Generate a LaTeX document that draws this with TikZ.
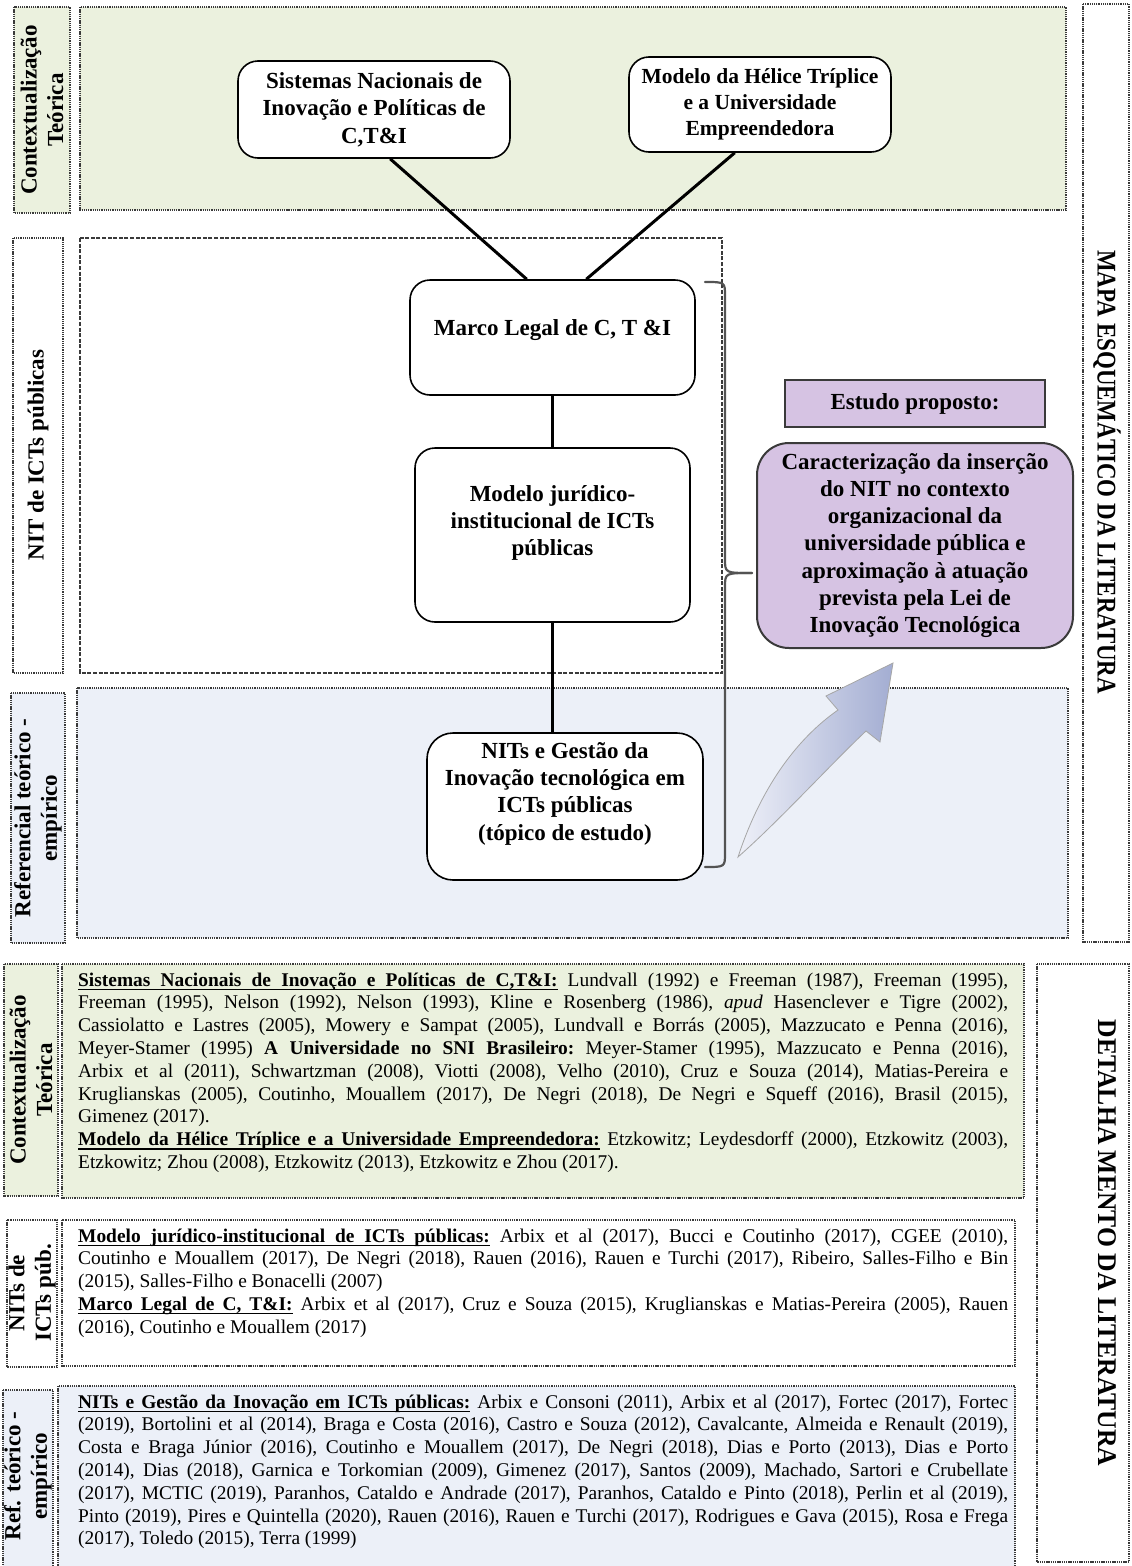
\documentclass[tikz,border=0pt]{standalone}
\usepackage{fontspec}
\setmainfont{Liberation Serif}
\usepackage{graphicx}
\usetikzlibrary{calc}

\definecolor{ctxgreen}{HTML}{EBF1DE}
\definecolor{refblue}{HTML}{ECF0F8}
\definecolor{propurple}{HTML}{D6C3E3}
\definecolor{frame}{HTML}{3A3A3A}
\definecolor{arrowlight}{HTML}{EEF0F8}
\definecolor{arrowdark}{HTML}{A3ADD2}

% fonts
\newcommand\bodyfont{\fontsize{19.4}{22.8}\selectfont\frenchspacing}
\newcommand\nodefont{\fontsize{23}{27.3}\selectfont\bfseries}
\newcommand\smallnodefont{\fontsize{21.5}{26}\selectfont\bfseries}
\newcommand\labfont{\fontsize{23}{26.5}\selectfont\bfseries}
\newcommand\sidefont{\fontsize{27}{30}\selectfont\bfseries}

% one justified line of the reference lists
\newcommand\jline[1]{\hbox to 930pt{#1}}

% underlined words whose spaces still stretch
\newcommand\ulword[1]{\setbox0=\hbox{#1}\rlap{\vrule height -2.5pt depth 4pt width \wd0}\box0}
\newcommand\ulsp{\leaders\hrule height -2.5pt depth 4pt\hskip\fontdimen2\font plus\fontdimen3\font minus\fontdimen4\font\relax}
\def\ulwords#1{\ulwA#1 \ulwEnd}
\def\ulwA#1 #2\ulwEnd{\ulword{#1}\ifx\relax#2\relax\else\ulsp\ulwA#2\ulwEnd\fi}

\begin{document}
\begin{tikzpicture}[x=1pt,y=-1pt,
  dotbox/.style={draw=frame, line width=1.3pt, dash pattern=on 1.3pt off 0.9pt},
  dashbox/.style={draw=frame, line width=1.5pt, dash pattern=on 4pt off 1.6pt},
  lab/.style={font=\labfont, align=center, rotate=90, inner sep=0pt},
  side/.style={font=\sidefont, rotate=-90, inner sep=0pt},
  topic/.style={draw=black, line width=1.6pt, rounded corners=20pt, fill=white, inner sep=0pt},
  ttext/.style={font=\nodefont, align=center, inner sep=0pt},
  link/.style={line width=3pt, black},
  brace/.style={line width=2.2pt, draw=gray!65!black, line cap=round},
  reflist/.style={anchor=base west, inner sep=0pt},
]
\useasboundingbox (0,0) rectangle (1132,1566);

% ---------------- schematic map: bands ----------------
\path[dotbox, fill=ctxgreen] (14,7) rectangle (70,213);
\path[dotbox, fill=ctxgreen] (80,7) rectangle (1066,210);
\path[dotbox, fill=white] (13,238) rectangle (63,673);
\path[dashbox, fill=white] (80,238) rectangle (722,673);
\path[dotbox, fill=refblue] (11,693) rectangle (65,943);
\path[dotbox, fill=refblue] (77,688) rectangle (1068,938);
\path[dotbox] (1083,4) rectangle (1129,942);

\node[lab] (lab-ctx) at (42,110) {Contextualização\\Teórica};
\node[lab] (lab-nit) at (38,455) {NIT de ICTs públicas};
\node[lab] (lab-ref) at (38,818) {Referencial teórico -\\empírico};
\node[side] (mapa) at (1107,472) {\scalebox{0.85}[1]{MAPA ESQUEMÁTICO DA LITERATURA}};

% ---------------- topics ----------------
\node[topic, minimum width=272pt, minimum height=97pt] (sni) at (374,109.5) {};
\node[ttext] (sni-t) at (sni.center) {Sistemas Nacionais de\\Inovação e Políticas de\\C,T\&I};

\node[topic, minimum width=262pt, minimum height=95pt] (helice) at (760,104.5) {};
\node[ttext, font=\smallnodefont] (helice-t) at (helice.center) {Modelo da Hélice Tríplice\\e a Universidade\\Empreendedora};

\node[topic, minimum width=285pt, minimum height=115pt] (marco) at (552.5,337.5) {};
\node[ttext] (marco-t) at ($(marco.center)+(0,-7)$) {Marco Legal de C, T \&I};

\node[topic, minimum width=275pt, minimum height=174pt] (jur) at (552.5,535) {};
\node[ttext] (jur-t) at ($(jur.center)+(0,-12)$) {Modelo jurídico-\\institucional de ICTs\\públicas};

\node[topic, rounded corners=26pt, minimum width=276pt, minimum height=147pt] (nits) at (565,806.5) {};
\node[ttext] (nits-t) at ($(nits.center)+(0,-13)$) {NITs e Gestão da\\Inovação tecnológica em\\ICTs públicas\\(tópico de estudo)};

\node[draw=frame, line width=1.5pt, fill=propurple, minimum width=260pt, minimum height=47pt, inner sep=0pt, font=\nodefont] (estudo) at (915,403.5) {Estudo proposto:};
\node[draw=frame, line width=2pt, fill=propurple, rounded corners=32pt, minimum width=316pt, minimum height=205pt, inner sep=0pt, font=\nodefont, align=center] (cara) at (915,545.5) {Caracterização da inserção\\do NIT no contexto\\organizacional da\\universidade pública e\\aproximação à atuação\\prevista pela Lei de\\Inovação Tecnológica};

% ---------------- connectors ----------------
\draw[link] ($(sni.south west)!0.559!(sni.south east)$) -- ($(marco.north west)!0.41!(marco.north east)$);
\draw[link] ($(helice.south west)!0.404!(helice.south east)$) -- ($(marco.north west)!0.618!(marco.north east)$);
\draw[link] (marco.south) -- (jur.north);
\draw[link] (jur.south) -- (jur.south |- nits.north);

% brace gathering the three topics
\coordinate (brtop) at (705,282);
\coordinate (brtip) at (752,573);
\coordinate (brbot) at (705,867);
\draw[brace] (brtop) .. controls (725,282) .. (725,296) -- (725,559) .. controls (725,573) .. (brtip);
\draw[brace] (brtip) .. controls (725,573) .. (725,587) -- (725,853) .. controls (725,867) .. (brbot);

% curved block arrow towards the proposed study
\path[draw=gray!70, line width=0.8pt, left color=arrowlight, right color=arrowdark]
  (738,857) .. controls (760,790) and (795,740) .. (838,710)
  -- (826,696) -- (893,663) -- (880,742) -- (866,731)
  .. controls (830,765) and (780,820) .. (738,857) -- cycle;

% ---------------- literature detail: bands ----------------
\path[dotbox, fill=ctxgreen] (4,964) rectangle (58,1196);
\path[dotbox, fill=ctxgreen] (62,964) rectangle (1024,1198);
\path[dotbox, fill=white] (7,1220) rectangle (57,1367);
\path[dotbox, fill=white] (62,1220) rectangle (1015,1366);
\path[dotbox, fill=refblue] (3,1390) rectangle (53,1575);
\path[dotbox, fill=refblue] (58,1386) rectangle (1015,1575);
\path[dotbox] (1037,964) rectangle (1129,1562);

\node[lab] (lab-ctx2) at (31,1080) {Contextualização\\Teórica};
\node[lab] (lab-nit2) at (32,1293) {NITs de\\ICTs púb.};
\node[lab] (lab-ref2) at (28,1476) {Ref. teórico -\\empírico};
\node[side] (detalha) at (1107,1243) {\scalebox{0.95}[1]{DETALHA MENTO DA LITERATURA}};

\node[reflist] (ctx-list) at (78,986) {\bodyfont\vtop{%
\jline{\textbf{\ulwords{Sistemas Nacionais de Inovação e Políticas de C,T\&I:}\ulsp}Lundvall (1992) e Freeman (1987), Freeman (1995),}%
\jline{Freeman (1995), Nelson (1992), Nelson (1993), Kline e Rosenberg (1986), \textit{apud} Hasenclever e Tigre (2002),}%
\jline{Cassiolatto e Lastres (2005), Mowery e Sampat (2005), Lundvall e Borrás (2005), Mazzucato e Penna (2016),}%
\jline{Meyer-Stamer (1995) \textbf{A Universidade no SNI Brasileiro:} Meyer-Stamer (1995), Mazzucato e Penna (2016),}%
\jline{Arbix et al (2011), Schwartzman (2008), Viotti (2008), Velho (2010), Cruz e Souza (2014), Matias-Pereira e}%
\jline{Kruglianskas (2005), Coutinho, Mouallem (2017), De Negri (2018), De Negri e Squeff (2016), Brasil (2015),}%
\hbox{Gimenez (2017).}%
\jline{\textbf{\ulwords{Modelo da Hélice Tríplice e a Universidade Empreendedora:}\ulsp}Etzkowitz; Leydesdorff (2000), Etzkowitz (2003),}%
\hbox{Etzkowitz; Zhou (2008), Etzkowitz (2013), Etzkowitz e Zhou (2017).}%
}};

\node[reflist] (nit-list) at (78,1242) {\bodyfont\vtop{%
\jline{\textbf{\ulwords{Modelo jurídico-institucional de ICTs públicas:}\ulsp}Arbix et al (2017), Bucci e Coutinho (2017), CGEE (2010),}%
\jline{Coutinho e Mouallem (2017), De Negri (2018), Rauen (2016), Rauen e Turchi (2017), Ribeiro, Salles-Filho e Bin}%
\hbox{(2015), Salles-Filho e Bonacelli (2007)}%
\jline{\textbf{\ulwords{Marco Legal de C, T\&I:}\ulsp}Arbix et al (2017), Cruz e Souza (2015), Kruglianskas e Matias-Pereira (2005), Rauen}%
\hbox{(2016), Coutinho e Mouallem (2017)}%
}};

\node[reflist] (ref-list) at (78,1408) {\bodyfont\vtop{%
\jline{\textbf{\ulwords{NITs e Gestão da Inovação em ICTs públicas:}\ulsp}Arbix e Consoni (2011), Arbix et al (2017), Fortec (2017), Fortec}%
\jline{(2019), Bortolini et al (2014), Braga e Costa (2016), Castro e Souza (2012), Cavalcante, Almeida e Renault (2019),}%
\jline{Costa e Braga Júnior (2016), Coutinho e Mouallem (2017), De Negri (2018), Dias e Porto (2013), Dias e Porto}%
\jline{(2014), Dias (2018), Garnica e Torkomian (2009), Gimenez (2017), Santos (2009), Machado, Sartori e Crubellate}%
\jline{(2017), MCTIC (2019), Paranhos, Cataldo e Andrade (2017), Paranhos, Cataldo e Pinto (2018), Perlin et al (2019),}%
\jline{Pinto (2019), Pires e Quintella (2020), Rauen (2016), Rauen e Turchi (2017), Rodrigues e Gava (2015), Rosa e Frega}%
\hbox{(2017), Toledo (2015), Terra (1999)}%
}};
\end{tikzpicture}
\end{document}
